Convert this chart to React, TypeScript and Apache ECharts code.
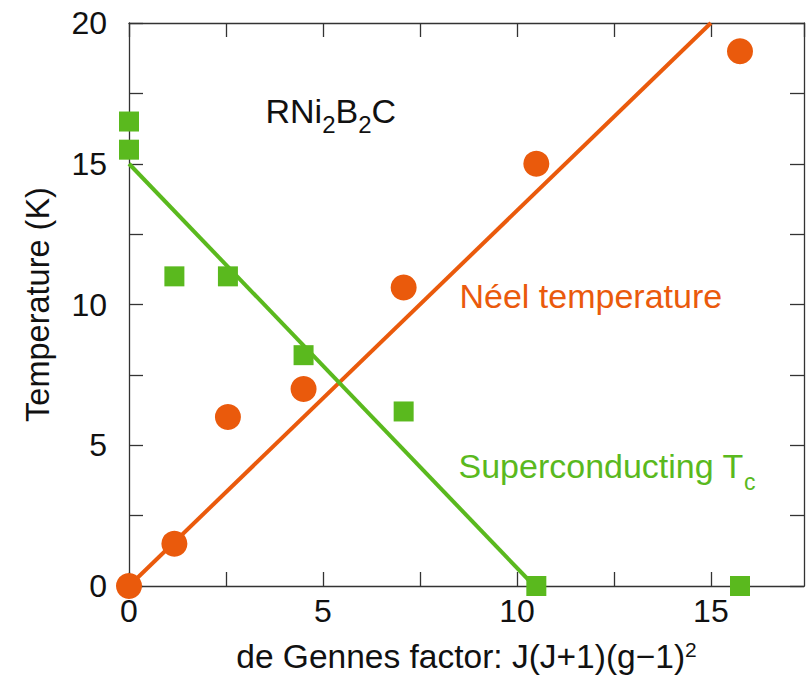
import React, { useEffect, useRef } from "react";
import * as echarts from "echarts";

// de Gennes factor for each compound
const neelX = [0, 1.17, 2.55, 4.5, 7.08, 10.5, 15.75];
const neelY = [0, 1.5, 6.0, 7.0, 10.6, 15.0, 19.0];
const tcX = [0, 0, 1.17, 2.55, 4.5, 7.08, 10.5, 15.75];
const tcY = [16.5, 15.5, 11.0, 11.0, 8.2, 6.2, 0, 0];
// guide lines
const neelFitX = [0, 15];
const neelFitY = [0, 20];
const tcFitX = [0, 10.45];
const tcFitY = [15, 0];

const ORANGE = "#EA5A0C";
const GREEN = "#5AB91E";
const FONT = "Liberation Sans, Arial, sans-serif";

const zip = (xs: number[], ys: number[]) => xs.map((x, i) => [x, ys[i]]);

export default function App() {
  const ref = useRef<HTMLDivElement>(null);
  useEffect(() => {
    const chart = echarts.init(ref.current!, null, { renderer: "svg" });
    const fmt = (v: number) => (Math.abs(v % 5) < 1e-9 ? String(v) : "");
    const axisCommon = {
      type: "value" as const,
      interval: 2.5,
      splitLine: { show: false },
      axisLine: { show: true, onZero: false, lineStyle: { color: "#333", width: 1.3 } },
      axisTick: { show: true, inside: true, length: 14, lineStyle: { color: "#333", width: 1.3 } },
    };
    chart.setOption({
      animation: false,
      backgroundColor: "#fff",
      textStyle: { fontFamily: FONT },
      grid: { left: 129, right: 6, top: 23, bottom: 92 },
      xAxis: [
        {
          ...axisCommon,
          position: "bottom",
          min: 0,
          max: 17.4,
          axisLabel: { formatter: fmt, fontSize: 32, color: "#111", margin: 9, fontFamily: FONT, showMaxLabel: false },
          name: "{a|de Gennes factor: J(J+1)(g\u22121)}{s|2}",
          nameLocation: "middle",
          nameGap: 53,
          nameTextStyle: {
            rich: {
              a: { fontSize: 33.5, color: "#111", fontFamily: FONT },
              s: { fontSize: 21, color: "#111", fontFamily: FONT, verticalAlign: "top" },
            },
          },
        },
        {
          ...axisCommon,
          position: "top",
          min: 0,
          max: 17.4,
          axisLabel: { show: false },
        },
      ],
      yAxis: [
        {
          ...axisCommon,
          position: "left",
          min: 0,
          max: 20,
          axisLabel: { formatter: fmt, fontSize: 32, color: "#111", margin: 22, fontFamily: FONT },
          name: "Temperature (K)",
          nameLocation: "middle",
          nameGap: 75,
          nameTextStyle: { fontSize: 32.5, color: "#111", fontFamily: FONT },
        },
        {
          ...axisCommon,
          position: "right",
          min: 0,
          max: 20,
          axisLabel: { show: false },
        },
      ],
      series: [
        {
          type: "line",
          data: zip(neelFitX, neelFitY),
          showSymbol: false,
          lineStyle: { color: ORANGE, width: 4 },
          itemStyle: { color: ORANGE },
          z: 1,
        },
        {
          type: "line",
          data: zip(tcFitX, tcFitY),
          showSymbol: false,
          lineStyle: { color: GREEN, width: 4 },
          itemStyle: { color: GREEN },
          z: 1,
        },
        {
          type: "scatter",
          data: zip(tcX, tcY),
          symbol: "rect",
          symbolSize: 20,
          itemStyle: { color: GREEN, opacity: 1 },
          clip: false,
          z: 3,
        },
        {
          type: "scatter",
          data: zip(neelX, neelY),
          symbol: "circle",
          symbolSize: 26,
          itemStyle: { color: ORANGE, opacity: 1 },
          clip: false,
          z: 4,
        },
      ],
      graphic: [
        {
          type: "text",
          x: 265.5,
          y: 111.2,
          style: {
            text: "{m|RNi}{s|2}{m|B}{s|2}{m|C}",
            verticalAlign: "middle",
            align: "left",
            rich: {
              m: { fontSize: 34, fill: "#111", fontFamily: FONT },
              s: { fontSize: 24, fill: "#111", fontFamily: FONT, padding: [26, 0, 0, 0] },
            },
          },
        },
        {
          type: "text",
          x: 459.5,
          y: 296.2,
          style: {
            text: "N\u00e9el temperature",
            fontSize: 34,
            fill: ORANGE,
            fontFamily: FONT,
            verticalAlign: "middle",
            align: "left",
          },
        },
        {
          type: "text",
          x: 458.5,
          y: 466.2,
          style: {
            text: "{m|Superconducting T}{s|c}",
            verticalAlign: "middle",
            align: "left",
            rich: {
              m: { fontSize: 34, fill: GREEN, fontFamily: FONT },
              s: { fontSize: 23, fill: GREEN, fontFamily: FONT, padding: [32, 0, 0, 0] },
            },
          },
        },
      ],
    });
    return () => chart.dispose();
  }, []);
  return (
    <div
      ref={ref}
      style={{ position: "fixed", left: 0, top: 0, width: 810, height: 678 }}
    />
  );
}
